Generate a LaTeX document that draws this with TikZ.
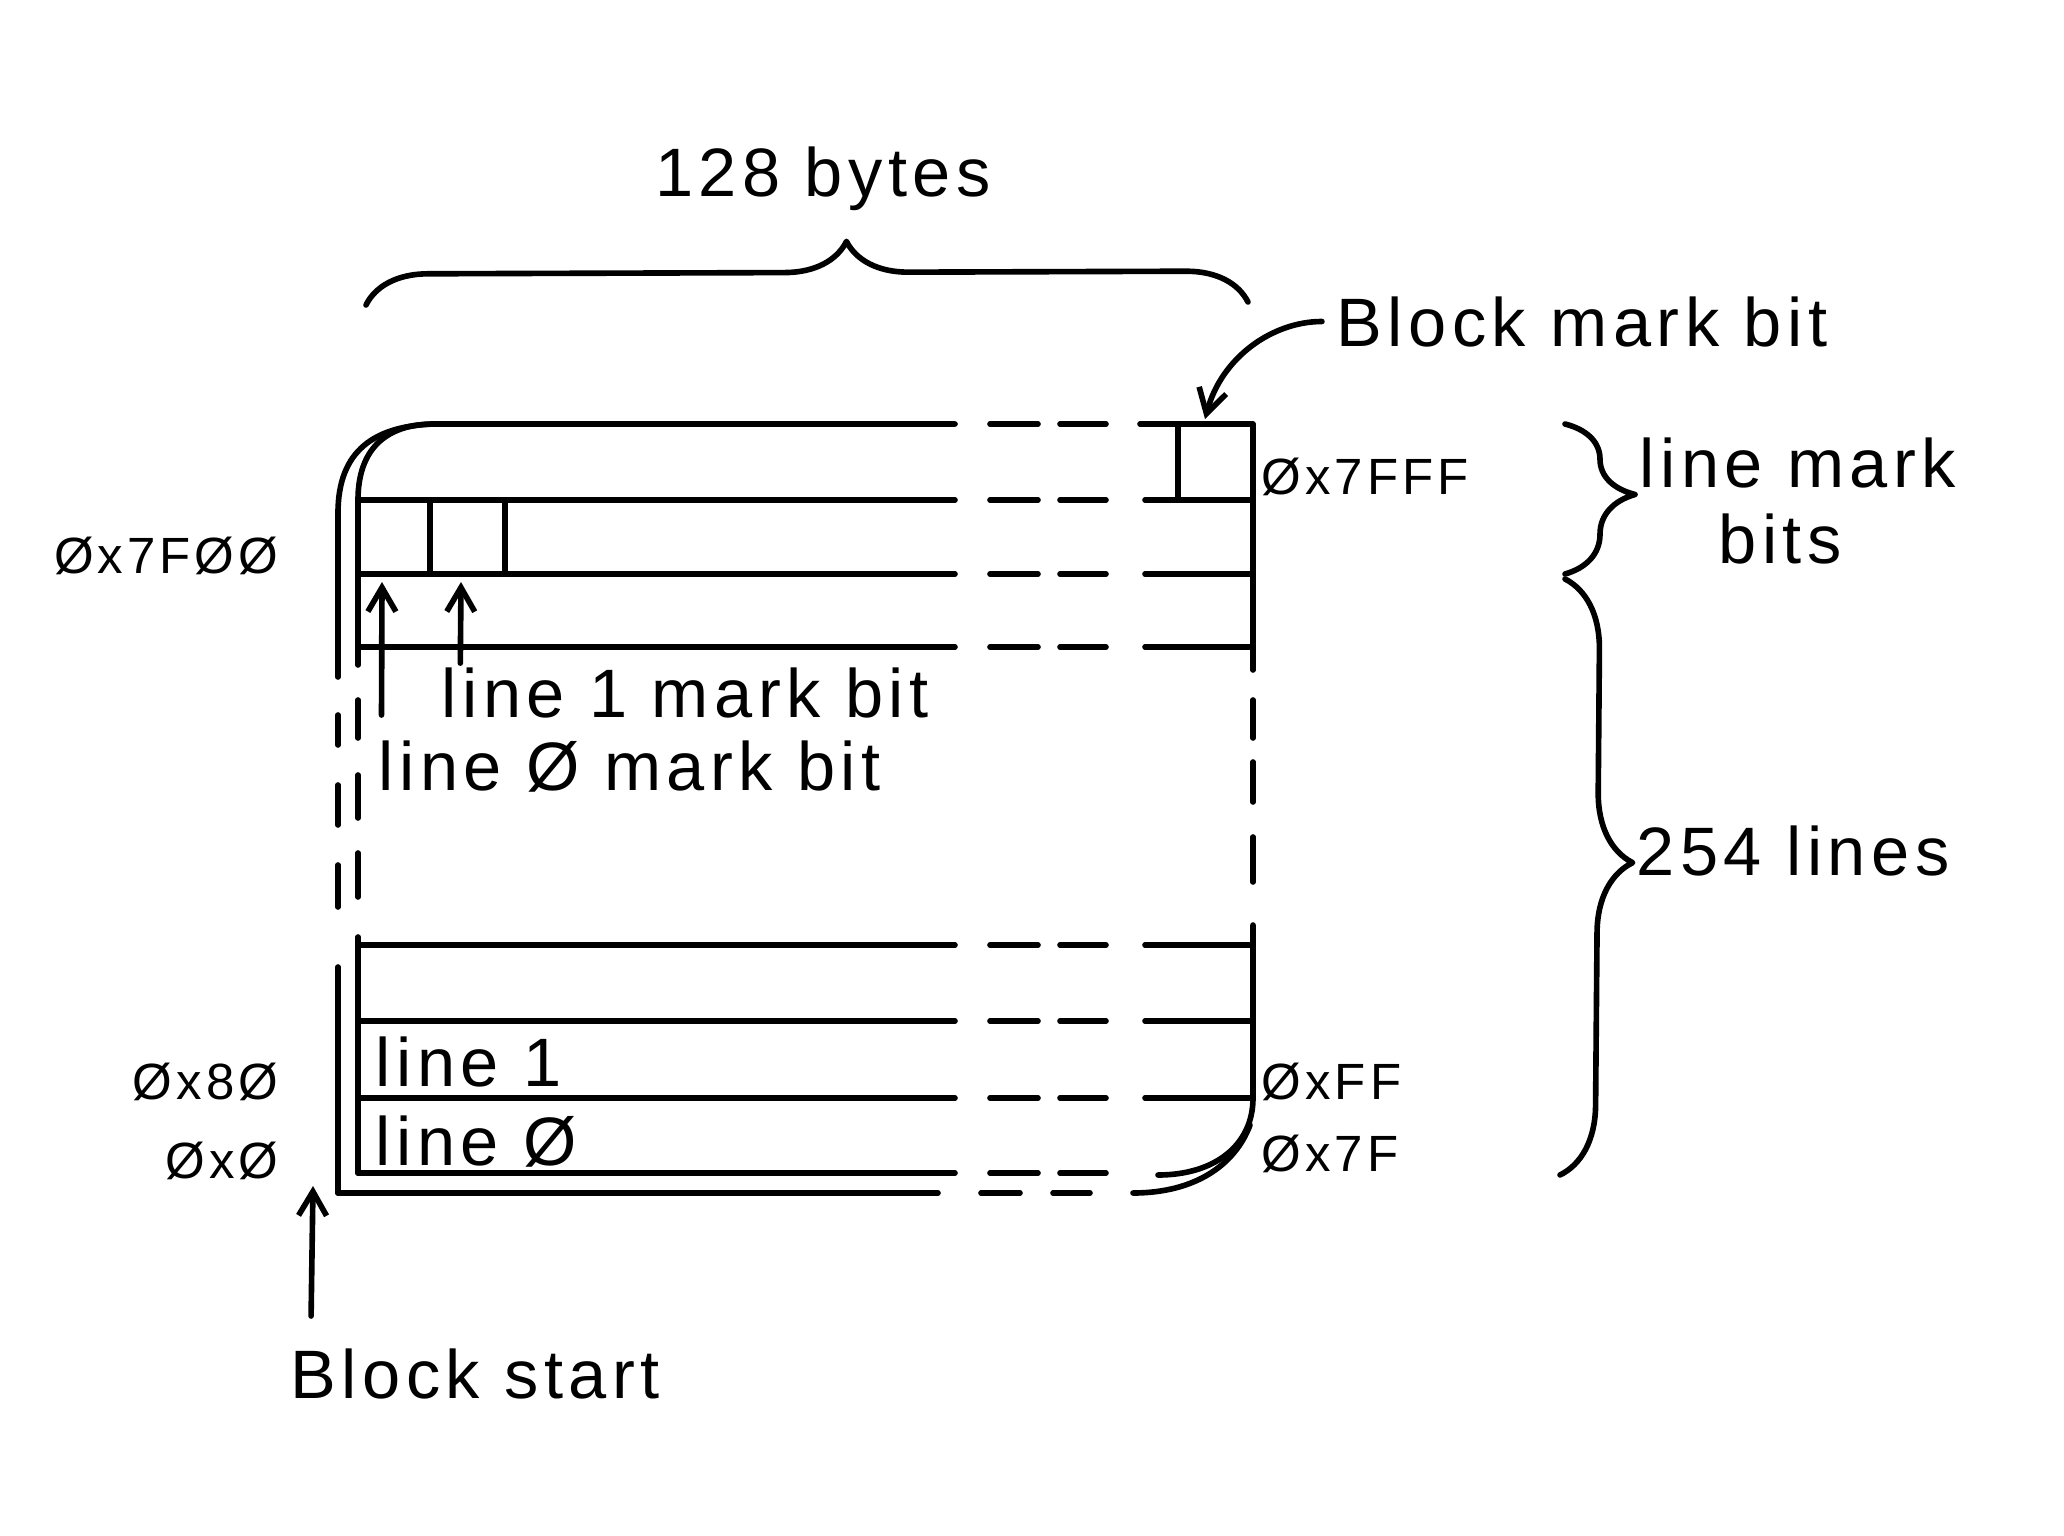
\documentclass[tikz,border=0pt]{standalone}
\usepackage{fontspec}
\setmainfont[LetterSpace=8]{Liberation Sans}
\usepackage{tikz}
\usetikzlibrary{arrows, arrows.meta, calc}
\usetikzlibrary{decorations.pathreplacing}

\tikzstyle{pen} = [line width=1.6pt, 
line cap=round, 
line join=round]
\tikzstyle{note} = [inner sep=0pt, 
font=\fontsize{19.5}{24}\selectfont]
\tikzstyle{addr} = [inner sep=0pt, 
font=\fontsize{14.5}{18}\selectfont]
\tikzstyle{curly} = [pen, decorate, 
decoration={brace, amplitude=0.7cm}]
\tikzstyle{arrow} = [pen,->,>={Straight Barb[length=2.4mm, width=2.8mm]}]

\begin{document}
\begin{tikzpicture}[y=-1cm]
\useasboundingbox (0,0) rectangle (20.64,15.36);

% rows of the block
\foreach \y in {5.00, 5.74, 6.47, 9.45, 10.21, 10.98} {
  \draw [pen] (3.58,\y) -- (9.55,\y);
  \draw [pen] (9.90,\y) -- (10.38,\y);
  \draw [pen] (10.60,\y) -- (11.06,\y);
  \draw [pen] (11.45,\y) -- (12.53,\y);
}
\draw [pen] (3.58,5.00) .. controls (3.58,4.50) and (3.85,4.24) .. (4.34,4.24) -- (9.55,4.24);
\draw [pen] (3.38,5.13) .. controls (3.38,4.50) and (3.75,4.26) .. (4.34,4.24);
\draw [pen] (9.90,4.24) -- (10.38,4.24);
\draw [pen] (10.60,4.24) -- (11.06,4.24);
\draw [pen] (11.40,4.24) -- (12.53,4.24) -- (12.53,6.70);

\draw [pen] (3.58,11.73) -- (9.55,11.73);
\draw [pen] (9.90,11.73) -- (10.38,11.73);
\draw [pen] (10.60,11.73) -- (11.06,11.73);
\draw [pen] (11.58,11.75) .. controls (12.15,11.75) and (12.53,11.45) .. (12.53,10.98) -- (12.53,9.25);
\draw [pen] (3.38,11.93) -- (9.38,11.93);
\draw [pen] (9.81,11.93) -- (10.20,11.93);
\draw [pen] (10.53,11.93) -- (10.90,11.93);
\draw [pen] (11.33,11.93) .. controls (11.95,11.93) and (12.35,11.65) .. (12.50,11.25);

% sides
\draw [pen] (3.58,5.00) -- (3.58,6.65);
\draw [pen] (3.58,7.00) -- (3.58,7.38);
\draw [pen] (3.58,7.75) -- (3.58,8.18);
\draw [pen] (3.58,8.53) -- (3.58,8.97);
\draw [pen] (3.58,9.37) -- (3.58,11.73);
\draw [pen] (3.38,5.13) -- (3.38,6.77);
\draw [pen] (3.38,7.15) -- (3.38,7.45);
\draw [pen] (3.38,7.85) -- (3.38,8.25);
\draw [pen] (3.38,8.65) -- (3.38,9.07);
\draw [pen] (3.38,9.67) -- (3.38,11.93);
\draw [pen] (12.53,7.00) -- (12.53,7.38);
\draw [pen] (12.53,7.62) -- (12.53,8.02);
\draw [pen] (12.53,8.37) -- (12.53,8.82);

% mark bits
\draw [pen] (4.30,5.00) -- (4.30,5.74);
\draw [pen] (5.05,5.00) -- (5.05,5.74);
\draw [pen] (11.78,4.24) -- (11.78,5.00);

\coordinate (bit0) at (3.82,5.82);
\coordinate (bit1) at (4.61,5.82);
\coordinate (blockbit) at (12.05,4.19);
\coordinate (origin) at (3.13,11.86);

\node (bytes) [note, anchor=base] at (8.23,1.97) {128 bytes};
\node (bmb) [note, anchor=base west] at (13.36,3.46) {Block mark bit};
\node (a7fff) [addr, anchor=base west] at (12.61,4.94) {Øx7FFF};
\node (lmb) [note, anchor=base west] at (16.39,4.87) {line mark};
\node (bits) [note, anchor=base west] at (17.18,5.63) {bits};
\node (a7f00) [addr, anchor=base east] at (2.79,5.73) {Øx7FØØ};
\node (l1mb) [note, anchor=base west] at (4.41,7.17) {line 1 mark bit};
\node (l0mb) [note, anchor=base west] at (3.78,7.90) {line Ø mark bit};
\node (lines) [note, anchor=base west] at (16.36,8.75) {254 lines};
\node (line1) [note, anchor=base west] at (3.75,10.86) {line 1};
\node (line0) [note, anchor=base west] at (3.75,11.65) {line Ø};
\node (a80) [addr, anchor=base east] at (2.79,10.99) {Øx8Ø};
\node (a0) [addr, anchor=base east] at (2.79,11.78) {ØxØ};
\node (aff) [addr, anchor=base west] at (12.61,10.99) {ØxFF};
\node (a7f) [addr, anchor=base west] at (12.61,11.71) {Øx7F};
\node (bstart) [note, anchor=base west] at (2.90,13.98) {Block start};

\draw [curly, decoration={aspect=0.545, amplitude=0.62cm}] (3.66,3.05) -- (12.48,3.02);
\draw [curly, decoration={aspect=0.47}] (15.65,4.24) -- (15.65,5.74);
\draw [curly, decoration={aspect=0.475}] (15.65,5.79) -- (15.60,11.75);

\draw [arrow, shorten <=4pt] (bmb.west) to[out=180, in=75] (blockbit);
\draw [arrow] ([xshift=5.5pt,yshift=1pt]l1mb.north west) -- (bit1);
\draw [arrow] ([xshift=1pt,yshift=7pt]l0mb.north west) -- (bit0);
\draw [arrow] ([xshift=6pt,yshift=9pt]bstart.north west) -- (origin);

\end{tikzpicture}
\end{document}
